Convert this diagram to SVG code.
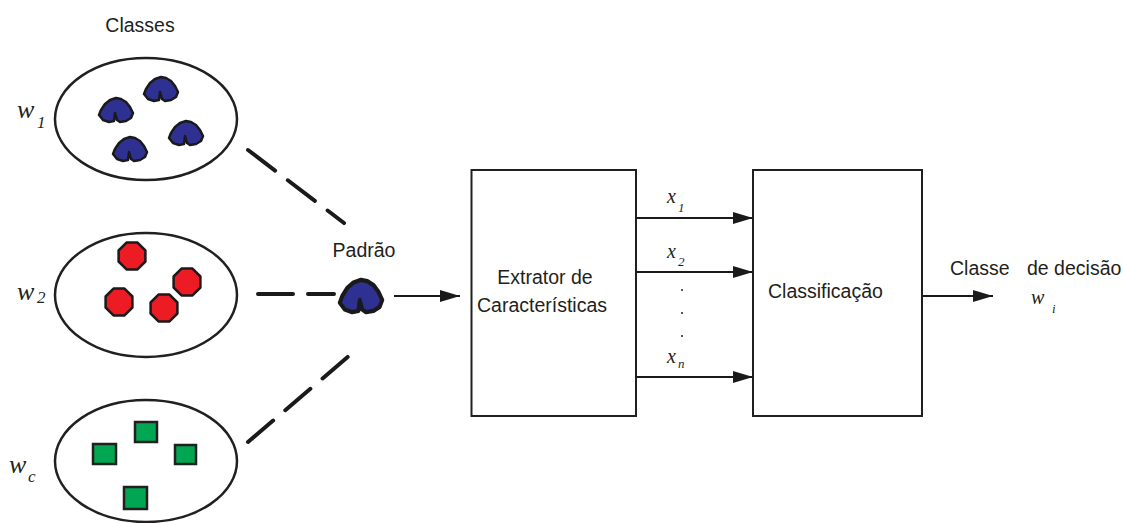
<svg xmlns="http://www.w3.org/2000/svg" xmlns:xlink="http://www.w3.org/1999/xlink" width="1123" height="523" viewBox="0 0 1123 523">
  <style>
    .lbl { font-family: "Liberation Sans", Arial, sans-serif; font-size: 19.5px; fill: #231F20; }
    .math { font-family: "Liberation Serif", "Times New Roman", serif; font-style: italic; fill: #231F20; }
    .cls { fill: #FFFFFF; stroke: #231F20; stroke-width: 2.5; }
    .box { fill: #FFFFFF; stroke: #231F20; stroke-width: 2; }
    .blue { fill: #2E3192; stroke: #1A1A1A; stroke-width: 2.5; stroke-linejoin: round; }
    .red { fill: #ED1C24; stroke: #1A1A1A; stroke-width: 2.5; stroke-linejoin: round; }
    .green { fill: #00A651; stroke: #231F20; stroke-width: 2.5; }
    .dash { stroke: #1A1A1A; stroke-width: 4; stroke-linecap: round; fill: none; }
    .arrow { stroke: #1A1A1A; stroke-width: 2; fill: none; marker-end: url(#head); }
  </style>
  <defs>
    <marker id="head" markerUnits="userSpaceOnUse" markerWidth="20" markerHeight="12" refX="20" refY="6" orient="auto">
      <path d="M0,0 L20,6 L0,12 Z" fill="#1A1A1A"/>
    </marker>
    <!-- notched bell-shaped blob used for class w1 and the input pattern -->
    <path id="blob" d="M-1,3 L-2,11 L-7,12 L-13,10 L-17,5 L-15,0 L-11,-6 L-6,-10 L0,-12 L5,-11 L10,-8 L14,-3 L17,3 L15,8 L10,11 L4,12 L1,10 Z"/>
    <polygon id="oct" points="13.4,5.5 5.5,13.4 -5.5,13.4 -13.4,5.5 -13.4,-5.5 -5.5,-13.4 5.5,-13.4 13.4,-5.5"/>
  </defs>

  <text class="lbl" x="140" y="32" text-anchor="middle">Classes</text>

  <!-- class w1 -->
  <g id="class-w1">
    <ellipse class="cls" cx="146" cy="119" rx="91" ry="61"/>
    <use xlink:href="#blob" class="blue" x="116" y="110"/>
    <use xlink:href="#blob" class="blue" x="161" y="89"/>
    <use xlink:href="#blob" class="blue" x="186" y="133"/>
    <use xlink:href="#blob" class="blue" x="130" y="149"/>
    <text class="math" x="17" y="118" font-size="26">w</text>
    <text class="math" x="37" y="128" font-size="17">1</text>
  </g>

  <!-- class w2 -->
  <g id="class-w2">
    <ellipse class="cls" cx="146" cy="295" rx="91" ry="62"/>
    <use xlink:href="#oct" class="red" x="132" y="256"/>
    <use xlink:href="#oct" class="red" x="187" y="282"/>
    <use xlink:href="#oct" class="red" x="119" y="302"/>
    <use xlink:href="#oct" class="red" x="164" y="308"/>
    <text class="math" x="17" y="300" font-size="26">w</text>
    <text class="math" x="37" y="303" font-size="17">2</text>
  </g>

  <!-- class wc -->
  <g id="class-wc">
    <ellipse class="cls" cx="146" cy="461" rx="91" ry="61"/>
    <rect class="green" x="135" y="422" width="22" height="20"/>
    <rect class="green" x="93" y="444" width="23" height="20"/>
    <rect class="green" x="175" y="445" width="21" height="19"/>
    <rect class="green" x="124" y="487" width="23" height="22"/>
    <text class="math" x="9" y="473" font-size="26">w</text>
    <text class="math" x="28" y="482" font-size="17">c</text>
  </g>

  <!-- input pattern -->
  <g id="padrao">
    <text class="lbl" x="364" y="257" text-anchor="middle">Padrão</text>
    <use xlink:href="#blob" class="blue" transform="translate(361,296) scale(1.25,1.35)" style="stroke-width:3.2"/>
  </g>

  <!-- feature extractor -->
  <g id="extrator">
    <rect class="box" x="471.5" y="170" width="164.5" height="246"/>
    <text class="lbl" x="545" y="284" text-anchor="middle">Extrator de</text>
    <text class="lbl" x="542" y="312" text-anchor="middle">Características</text>
  </g>

  <!-- classifier -->
  <g id="classificacao">
    <rect class="box" x="753" y="170" width="169" height="246"/>
    <text class="lbl" x="768" y="298">Classificação</text>
  </g>

  <!-- decision output label -->
  <g id="decisao">
    <text class="lbl" x="950" y="275">Classe</text>
    <text class="lbl" x="1027" y="275">de decisão</text>
    <text class="math" x="1031" y="304" font-size="20">w</text>
    <text class="math" x="1052" y="313" font-size="13">i</text>
  </g>

  <!-- feature labels -->
  <g id="features">
    <text class="math" x="667" y="203" font-size="20">x</text>
    <text class="math" x="678" y="212" font-size="13">1</text>
    <text class="math" x="667" y="258" font-size="20">x</text>
    <text class="math" x="678" y="266" font-size="13">2</text>
    <circle cx="682" cy="290" r="1" fill="#231F20"/>
    <circle cx="682" cy="313" r="1" fill="#231F20"/>
    <circle cx="682" cy="336" r="1" fill="#231F20"/>
    <text class="math" x="667" y="363" font-size="20">x</text>
    <text class="math" x="678" y="368" font-size="13">n</text>
  </g>

  <g id="connectors">
    <path class="dash" d="M248,150 L344,223" stroke-dasharray="34,16"/>
    <path class="dash" d="M258,294 L334,294" stroke-dasharray="35,15"/>
    <path class="dash" d="M248,442 L350,355" stroke-dasharray="33,16"/>
    <line class="arrow" x1="394" y1="296" x2="460" y2="296"/>
    <line class="arrow" x1="636" y1="218" x2="753" y2="218"/>
    <line class="arrow" x1="636" y1="272" x2="753" y2="272"/>
    <line class="arrow" x1="636" y1="377" x2="753" y2="377"/>
    <line class="arrow" x1="923" y1="296" x2="993" y2="296"/>
  </g>
</svg>
